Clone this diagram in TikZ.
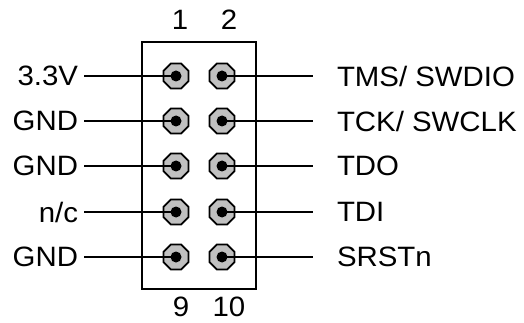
\documentclass[tikz,border=0pt]{standalone}
\usepackage{fontspec}
\setmainfont{Liberation Sans}[FakeStretch=1.05]
\usepackage{xcolor}
\usetikzlibrary{positioning}
\usetikzlibrary{shapes.geometric}
\definecolor{pingray}{RGB}{192,192,192}
\tikzset{
	pin/.style={regular polygon, regular polygon sides=8, minimum size=27pt, inner sep=0pt, draw=black, line width=1.8pt, fill=pingray},
	wire/.style={line width=1.8pt},
	leftlbl/.style={anchor=east, inner sep=0pt, outer xsep=6pt, font=\fontsize{28}{30}\selectfont},
	rightlbl/.style={anchor=west, inner sep=0pt, outer xsep=24pt, font=\fontsize{28}{30}\selectfont},
	numlbl/.style={inner sep=0pt, font=\fontsize{28}{30}\selectfont},
}
\begin{document}
\begin{tikzpicture}[x=1pt, y=-1pt]
		\useasboundingbox (0,0) rectangle (524,323);
		\draw[line width=1.8pt] (142,42) rectangle (256,289);
		\node[numlbl] (n1) at (180,20) {1};
		\node[numlbl] (n2) at (229,20) {2};
		\node[numlbl] (n9) at (181,307) {9};
		\node[numlbl] (n10) at (229,307) {10};
		\node[pin] (p1) at (176,76) {};
		\node[pin] (p2) at (222,76) {};
		\node[pin] (p3) at (176,121) {};
		\node[pin] (p4) at (222,121) {};
		\node[pin] (p5) at (176,166) {};
		\node[pin] (p6) at (222,166) {};
		\node[pin] (p7) at (176,212) {};
		\node[pin] (p8) at (222,212) {};
		\node[pin] (p9) at (176,257) {};
		\node[pin] (p10) at (222,257) {};
		\fill[black] (p1.center) circle (5.5pt);
		\fill[black] (p2.center) circle (5.5pt);
		\fill[black] (p3.center) circle (5.5pt);
		\fill[black] (p4.center) circle (5.5pt);
		\fill[black] (p5.center) circle (5.5pt);
		\fill[black] (p6.center) circle (5.5pt);
		\fill[black] (p7.center) circle (5.5pt);
		\fill[black] (p8.center) circle (5.5pt);
		\fill[black] (p9.center) circle (5.5pt);
		\fill[black] (p10.center) circle (5.5pt);
		\node[leftlbl] (l1) at (84,76) {3.3V};
		\node[leftlbl] (l3) at (84,121) {GND};
		\node[leftlbl] (l5) at (84,166) {GND};
		\node[leftlbl] (l7) at (84,212) {n/c};
		\node[leftlbl] (l9) at (84,257) {GND};
		\node[rightlbl] (l2) at (313,76) {TMS/ SWDIO};
		\node[rightlbl] (l4) at (313,121) {TCK/ SWCLK};
		\node[rightlbl] (l6) at (313,166) {TDO};
		\node[rightlbl] (l8) at (313,212) {TDI};
		\node[rightlbl] (l10) at (313,257) {SRSTn};
		\draw[wire] (l1.east) -- (p1.center);
		\draw[wire] (l3.east) -- (p3.center);
		\draw[wire] (l5.east) -- (p5.center);
		\draw[wire] (l7.east) -- (p7.center);
		\draw[wire] (l9.east) -- (p9.center);
		\draw[wire] (p2.center) -- (l2.west);
		\draw[wire] (p4.center) -- (l4.west);
		\draw[wire] (p6.center) -- (l6.west);
		\draw[wire] (p8.center) -- (l8.west);
		\draw[wire] (p10.center) -- (l10.west);
	\end{tikzpicture}
\end{document}
